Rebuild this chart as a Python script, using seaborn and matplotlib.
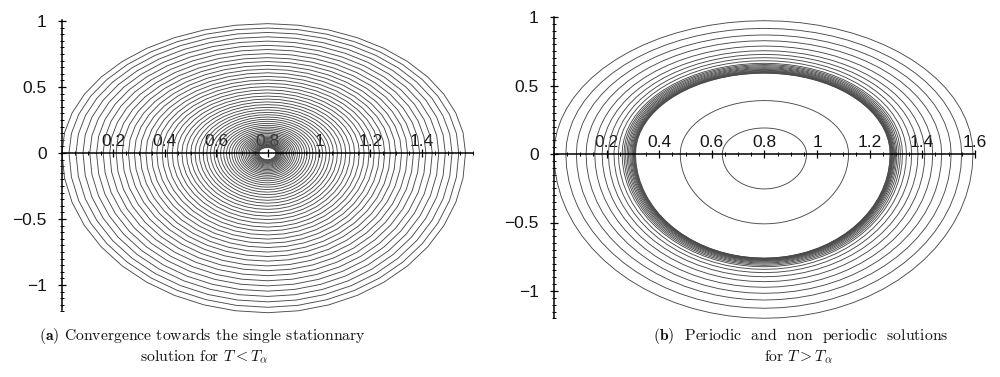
import numpy as np
import pandas as pd
import matplotlib
matplotlib.use("Agg")
import matplotlib.pyplot as plt
import seaborn as sns
from matplotlib.ticker import MultipleLocator, FixedLocator, FuncFormatter

# ---------------- data: panel (a) ----------------
center_a = (0.8, 0.0)
# extents of the outermost turn, measured from the centre (left, right, top, bottom)
outer_a_left = 0.80
outer_a_right = 0.77
outer_a_top = 0.98
outer_a_bottom = 1.21
# relative size of each successive turn of the spiral
ring_scale_a = [1.000, 0.966, 0.932, 0.898, 0.865, 0.832, 0.800, 0.768, 0.737,
                0.707, 0.677, 0.648, 0.620, 0.592, 0.565, 0.539, 0.513, 0.488,
                0.464, 0.440, 0.417, 0.395, 0.374, 0.353, 0.333, 0.314, 0.296,
                0.278, 0.261, 0.245, 0.229, 0.214, 0.200, 0.187, 0.174, 0.162,
                0.151, 0.140, 0.130, 0.121, 0.112, 0.104, 0.096, 0.089, 0.082,
                0.076, 0.070, 0.065, 0.060, 0.056, 0.052, 0.048, 0.045, 0.042]

# ---------------- data: panel (b) ----------------
center_b_x = 0.8
# trajectories outside the limit cycle: x-intercepts (left/right), top and bottom y
ring_b_left = [0.000, 0.045, 0.085, 0.122, 0.155, 0.183, 0.207, 0.228, 0.245,
               0.259, 0.266, 0.272, 0.278, 0.283, 0.288, 0.292, 0.296, 0.299,
               0.302, 0.304, 0.306, 0.308, 0.310]
ring_b_right = [1.593, 1.550, 1.510, 1.474, 1.440, 1.410, 1.384, 1.360, 1.340,
                1.325, 1.317, 1.310, 1.304, 1.299, 1.295, 1.292, 1.289, 1.287,
                1.285, 1.283, 1.281, 1.279, 1.278]
ring_b_top = [0.973, 0.917, 0.869, 0.827, 0.788, 0.754, 0.727, 0.703, 0.681,
              0.662, 0.653, 0.645, 0.637, 0.630, 0.623, 0.617, 0.611, 0.606,
              0.602, 0.598, 0.595, 0.592, 0.590]
ring_b_bottom = [-1.199, -1.126, -1.066, -1.017, -0.973, -0.932, -0.896, -0.866,
                 -0.842, -0.823, -0.813, -0.804, -0.796, -0.789, -0.783, -0.778,
                 -0.774, -0.770, -0.767, -0.765, -0.763, -0.761, -0.760]
# periodic orbits inside the limit cycle
inner_b_left = [0.48, 0.64]
inner_b_right = [1.12, 0.96]
inner_b_top = [0.39, 0.19]
inner_b_bottom = [-0.51, -0.255]

# ---------------- ticks / text ----------------
x_ticks_a = [0.2, 0.4, 0.6, 0.8, 1.0, 1.2, 1.4]
x_ticks_b = [0.2, 0.4, 0.6, 0.8, 1.0, 1.2, 1.4, 1.6]
y_ticks = [-1.0, -0.5, 0.0, 0.5, 1.0]
caption_a = [r"$\mathbf{(a)}$ Convergence towards the single stationnary",
             r"solution for $T < T_\alpha$"]
caption_b = [r"$\mathbf{(b)}$  Periodic  and  non  periodic  solutions",
             r"for $T > T_\alpha$"]

# ---------------- build curves ----------------
N_PTS = 40
theta = np.linspace(0, 2 * np.pi, N_PTS + 1)
ct, st = np.cos(theta), np.sin(theta)


def ring(cx, left, right, top, bottom, c, s):
    x = cx + np.where(c >= 0, right, left) * c
    y = np.where(s >= 0, top, bottom) * s
    return x, y


rows_a = []
for k, s in enumerate(ring_scale_a):
    x, y = ring(center_a[0], outer_a_left * s, outer_a_right * s,
                outer_a_top * s, outer_a_bottom * s, ct, st)
    rows_a.append(pd.DataFrame({"x": x, "y": y + center_a[1], "ring": k}))
df_a = pd.concat(rows_a, ignore_index=True)

rows_b = []
allL = ring_b_left + inner_b_left
allR = ring_b_right + inner_b_right
allT = ring_b_top + inner_b_top
allB = ring_b_bottom + inner_b_bottom
theta_b = np.linspace(0, 2 * np.pi, 73)
cb, sb = np.cos(theta_b), np.sin(theta_b)
for k in range(len(allL)):
    x, y = ring(center_b_x, center_b_x - allL[k], allR[k] - center_b_x,
                allT[k], -allB[k], cb, sb)
    rows_b.append(pd.DataFrame({"x": x, "y": y, "ring": k}))
df_b = pd.concat(rows_b, ignore_index=True)

# ---------------- figure ----------------
sns.set_style("white")
plt.rcParams["font.family"] = ["Liberation Sans", "DejaVu Sans"]
plt.rcParams["mathtext.fontset"] = "cm"

W, H = 1000, 377
fig = plt.figure(figsize=(W / 100, H / 100), dpi=100)

line_col = "#4a4a4a"


def make_axes(x0px, y0px, xscale, yscale, xlim, ylim):
    left = x0px + xlim[0] * xscale
    width = (xlim[1] - xlim[0]) * xscale
    top = y0px - ylim[1] * yscale
    height = (ylim[1] - ylim[0]) * yscale
    ax = fig.add_axes([left / W, 1 - (top + height) / H, width / W, height / H])
    ax.set_xlim(*xlim)
    ax.set_ylim(*ylim)
    return ax


def style_axes(ax, xticks, xbound, ybound):
    ax.set_facecolor("none")
    for sp in ("top", "right"):
        ax.spines[sp].set_visible(False)
    ax.spines["left"].set_position(("data", 0))
    ax.spines["bottom"].set_position(("data", 0))
    for sp in ("left", "bottom"):
        ax.spines[sp].set_color("black")
        ax.spines[sp].set_linewidth(1.1)
        ax.spines[sp].set_zorder(5)
    ax.spines["bottom"].set_bounds(*xbound)
    ax.spines["left"].set_bounds(*ybound)
    ax.xaxis.set_major_locator(FixedLocator(xticks))
    ax.xaxis.set_minor_locator(MultipleLocator(0.05))
    ax.yaxis.set_major_locator(FixedLocator(y_ticks))
    ax.yaxis.set_minor_locator(MultipleLocator(0.05))
    fmt = FuncFormatter(lambda v, p: ("%g" % v).replace("-", "\u2212"))
    ax.xaxis.set_major_formatter(fmt)
    ax.yaxis.set_major_formatter(fmt)
    ax.tick_params(axis="x", which="both", bottom=True, top=False)
    ax.tick_params(axis="y", which="both", left=True, right=False)
    ax.tick_params(axis="x", which="major", direction="inout", length=6,
                   width=0.9, pad=-17, labelsize=12.5, colors="black")
    ax.tick_params(axis="y", which="major", direction="inout", length=6,
                   width=0.9, pad=8, labelsize=12.5, colors="black")
    ax.tick_params(which="minor", direction="inout", length=3, width=0.7,
                   colors="black")
    for lbl in ax.get_xticklabels() + ax.get_yticklabels():
        lbl.set_color("#151515")
    ax.set_xlabel("")
    ax.set_ylabel("")
    ax.grid(False)


# panel (a)
ax_a = make_axes(62, 153, 257, 132, (-0.02, 1.62), (-1.22, 1.03))
sns.lineplot(data=df_a, x="x", y="y", units="ring", estimator=None, sort=False,
             color=line_col, linewidth=0.65, ax=ax_a, legend=False)
style_axes(ax_a, x_ticks_a, (0, 1.6), (-1.19, 1.01))

# panel (b)
ax_b = make_axes(554, 154, 263, 137, (-0.02, 1.62), (-1.22, 1.03))
sns.lineplot(data=df_b, x="x", y="y", units="ring", estimator=None, sort=False,
             color=line_col, linewidth=0.65, ax=ax_b, legend=False)
style_axes(ax_b, x_ticks_b, (0, 1.6), (-1.2, 1.0))

# captions
cap_kw = dict(ha="center", va="center", fontsize=11.3, family="cmr10",
              color="#111111")
fig.text(202 / W, 1 - 336 / H, caption_a[0], **cap_kw)
fig.text(204 / W, 1 - 357 / H, caption_a[1], **cap_kw)
fig.text(801 / W, 1 - 336 / H, caption_b[0], **cap_kw)
fig.text(798 / W, 1 - 357 / H, caption_b[1], **cap_kw)

fig.savefig("out.png", dpi=100)
